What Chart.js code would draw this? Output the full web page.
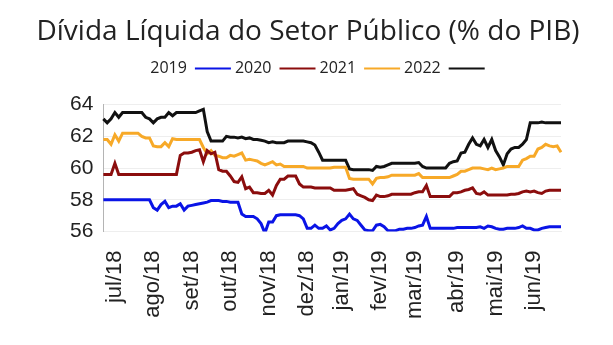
<!DOCTYPE html>
<html lang="pt-BR">
<head>
<meta charset="utf-8">
<script src="https://cdn.jsdelivr.net/npm/chart.js@4.4.1/dist/chart.umd.min.js"></script>
<style>
  html, body { margin: 0; padding: 0; background: #fff; }
  #wrap { width: 613px; height: 345px; position: relative; }
</style>
</head>
<body>
<div id="wrap"><canvas id="dlsp"></canvas></div>
<script>
// month labels and the point index where each one sits (10 points per month)
const monthLabels = ['jul/18', 'ago/18', 'set/18', 'out/18', 'nov/18', 'dez/18',
                     'jan/19', 'fev/19', 'mar/19', 'abr/19', 'mai/19', 'jun/19'];
const monthIndex = [3, 13, 23, 33, 43, 53, 62, 72, 81, 92, 102, 112];

const seriesNames = ['2019', '2020', '2021', '2022'];
const seriesColors = ['#0a14e6', '#8b0d0d', '#f7a928', '#111111'];

const s2019 = [
    58.0, 58.0, 58.0, 58.0, 58.0, 58.0, 58.0, 58.0, 58.0, 58.0,
    58.0, 58.0, 58.0, 57.5, 57.35, 57.7, 57.9, 57.5, 57.6, 57.6,
    57.75, 57.35, 57.6, 57.65, 57.7, 57.75, 57.8, 57.85, 57.95, 57.95,
    57.95, 57.9, 57.9, 57.85, 57.85, 57.85, 57.1, 56.95, 56.95, 56.95,
    56.8, 56.5, 55.9, 56.6, 56.6, 57.0, 57.05, 57.05, 57.05, 57.05,
    57.05, 57.0, 56.8, 56.2, 56.2, 56.4, 56.2, 56.2, 56.35, 56.1,
    56.2, 56.5, 56.7, 56.8, 57.1, 56.8, 56.7, 56.4, 56.1, 56.05,
    56.05, 56.4, 56.45, 56.3, 56.05, 56.05, 56.05, 56.15, 56.15, 56.2,
    56.2, 56.25, 56.35, 56.4, 56.95, 56.2, 56.2, 56.2, 56.2, 56.2,
    56.2, 56.2, 56.25, 56.25, 56.25, 56.25, 56.25, 56.25, 56.3, 56.2,
    56.35, 56.3, 56.2, 56.15, 56.15, 56.2, 56.2, 56.2, 56.25, 56.35,
    56.2, 56.2, 56.1, 56.1, 56.2, 56.25, 56.3, 56.3, 56.3, 56.3
];
const s2020 = [
    59.6, 59.6, 59.6, 60.3, 59.6, 59.6, 59.6, 59.6, 59.6, 59.6,
    59.6, 59.6, 59.6, 59.6, 59.6, 59.6, 59.6, 59.6, 59.6, 59.6,
    60.8, 60.95, 60.95, 61.0, 61.1, 61.15, 60.4, 61.1, 60.9, 61.0,
    59.9, 59.8, 59.8, 59.5, 59.15, 59.1, 59.45, 58.7, 58.8, 58.45,
    58.45, 58.4, 58.4, 58.6, 58.3, 58.9, 59.3, 59.3, 59.5, 59.5,
    59.5, 59.0, 58.8, 58.8, 58.8, 58.75, 58.75, 58.75, 58.75, 58.75,
    58.6, 58.6, 58.6, 58.6, 58.65, 58.7, 58.35, 58.25, 58.15, 58.0,
    57.95, 58.3, 58.2, 58.2, 58.25, 58.35, 58.35, 58.35, 58.35, 58.35,
    58.35, 58.45, 58.5, 58.5, 58.9, 58.2, 58.2, 58.2, 58.2, 58.2,
    58.2, 58.45, 58.45, 58.5, 58.6, 58.65, 58.75, 58.4, 58.35, 58.5,
    58.3, 58.3, 58.3, 58.3, 58.3, 58.3, 58.35, 58.35, 58.4, 58.5,
    58.55, 58.5, 58.55, 58.45, 58.4, 58.55, 58.6, 58.6, 58.6, 58.6
];
const s2021 = [
    61.8, 61.8, 61.5, 62.1, 61.7, 62.2, 62.2, 62.2, 62.2, 62.2,
    62.0, 61.9, 61.9, 61.4, 61.35, 61.35, 61.6, 61.35, 61.85, 61.8,
    61.8, 61.8, 61.8, 61.8, 61.8, 61.8, 61.3, 60.9, 61.1, 60.8,
    60.75, 60.65, 60.65, 60.8, 60.75, 60.85, 60.95, 60.5, 60.55, 60.5,
    60.45, 60.3, 60.2, 60.3, 60.4, 60.2, 60.25, 60.1, 60.1, 60.1,
    60.1, 60.1, 60.1, 60.0, 60.0, 60.0, 60.0, 60.0, 60.0, 60.0,
    60.05, 60.05, 60.05, 60.05, 59.35, 59.3, 59.3, 59.3, 59.3, 59.3,
    59.0, 59.35, 59.4, 59.4, 59.45, 59.55, 59.55, 59.55, 59.55, 59.55,
    59.55, 59.55, 59.65, 59.4, 59.4, 59.4, 59.4, 59.4, 59.4, 59.4,
    59.4, 59.5, 59.6, 59.8, 59.8, 59.9, 60.0, 60.0, 60.0, 59.95,
    59.9, 60.0, 59.9, 59.95, 60.0, 60.1, 60.1, 60.1, 60.1, 60.5,
    60.6, 60.75, 60.75, 61.2, 61.3, 61.5, 61.4, 61.35, 61.4, 61.0
];
const s2022 = [
    63.1, 62.85, 63.1, 63.5, 63.2, 63.5, 63.5, 63.5, 63.5, 63.5,
    63.5, 63.2, 63.1, 62.85, 63.1, 63.2, 63.2, 63.5, 63.3, 63.5,
    63.5, 63.5, 63.5, 63.5, 63.5, 63.6, 63.7, 62.3, 61.7, 61.7,
    61.7, 61.7, 62.0, 61.95, 61.95, 61.9, 61.95, 61.85, 61.9, 61.8,
    61.8, 61.75, 61.7, 61.6, 61.65, 61.6, 61.6, 61.6, 61.7, 61.7,
    61.7, 61.7, 61.7, 61.65, 61.6, 61.45, 61.0, 60.5, 60.5, 60.5,
    60.5, 60.5, 60.5, 60.5, 59.95, 59.9, 59.9, 59.9, 59.9, 59.9,
    59.85, 60.1, 60.05, 60.1, 60.2, 60.3, 60.3, 60.3, 60.3, 60.3,
    60.3, 60.3, 60.35, 60.1, 60.0, 60.0, 60.0, 60.0, 60.0, 60.0,
    60.3, 60.4, 60.45, 60.95, 61.0, 61.5, 61.9, 61.5, 61.4, 61.8,
    61.3, 61.8, 61.1, 60.7, 60.2, 60.9, 61.2, 61.3, 61.3, 61.5,
    61.8, 62.85, 62.85, 62.85, 62.9, 62.85, 62.85, 62.85, 62.85, 62.85
];

const yTicks = [56, 58, 60, 62, 64];

// one label per point, only the month starts get text
const pointLabels = s2019.map((_, i) => {
    const m = monthIndex.indexOf(i);
    return m >= 0 ? monthLabels[m] : '';
});

const seriesData = [s2019, s2020, s2021, s2022];
const datasets = seriesNames.map((name, k) => ({
    label: name,
    data: seriesData[k],
    borderColor: seriesColors[k],
    backgroundColor: seriesColors[k],
    borderWidth: 3,
    pointRadius: 0,
    tension: 0,
    fill: false
}));

// title gets the full canvas width (so it is not squeezed by the side padding),
// legend is nudged a bit right and gets some air below it
const headerTweak = {
    id: 'headerTweak',
    beforeInit(chart) {
        const origFit = chart.legend.fit;
        chart.legend.fit = function () {
            origFit.bind(chart.legend)();
            this.height += 18;
        };
    },
    afterLayout(chart) {
        chart.titleBlock.left = 3;
        chart.titleBlock.right = chart.width;
        chart.titleBlock.width = chart.width - 3;
        chart.legend.left += 7;
        chart.legend.right += 7;
    }
};

const ctx = document.getElementById('dlsp').getContext('2d');
const chart = new Chart(ctx, {
    type: 'line',
    data: { labels: pointLabels, datasets: datasets },
    plugins: [headerTweak],
    options: {
        responsive: true,
        maintainAspectRatio: false,
        animation: false,
        layout: { padding: { left: 60, right: 52, top: 0, bottom: 15 } },
        plugins: {
            title: {
                display: true,
                text: 'Dívida Líquida do Setor Público (% do PIB)',
                color: '#222',
                font: { family: 'Open Sans', size: 28, weight: 'normal' },
                padding: { top: 15, bottom: 8 }
            },
            legend: {
                display: true,
                rtl: true,
                reverse: true,
                labels: {
                    color: '#222',
                    font: { family: 'Open Sans', size: 16 },
                    usePointStyle: true,
                    pointStyle: 'line',
                    pointStyleWidth: 36,
                    padding: 4,
                    generateLabels(chart) {
                        const items = Chart.defaults.plugins.legend.labels.generateLabels(chart);
                        items.forEach(it => { it.lineWidth = 2; });
                        return items;
                    }
                }
            },
            tooltip: { enabled: false }
        },
        scales: {
            x: {
                grid: { display: false },
                border: { color: '#eeeeee' },
                ticks: {
                    autoSkip: false,
                    maxRotation: 90,
                    minRotation: 90,
                    padding: 11,
                    color: '#222',
                    font: { family: 'Liberation Sans', size: 22 }
                }
            },
            y: {
                min: 56,
                max: 64,
                afterBuildTicks(scale) {
                    scale.ticks = yTicks.map(v => ({ value: v }));
                },
                grid: { color: '#eeeeee', drawTicks: false },
                border: { color: '#b4b4b4' },
                ticks: {
                    padding: 10,
                    color: '#222',
                    font: { family: 'Liberation Sans', size: 21 }
                }
            }
        }
    }
});
</script>
</body>
</html>
